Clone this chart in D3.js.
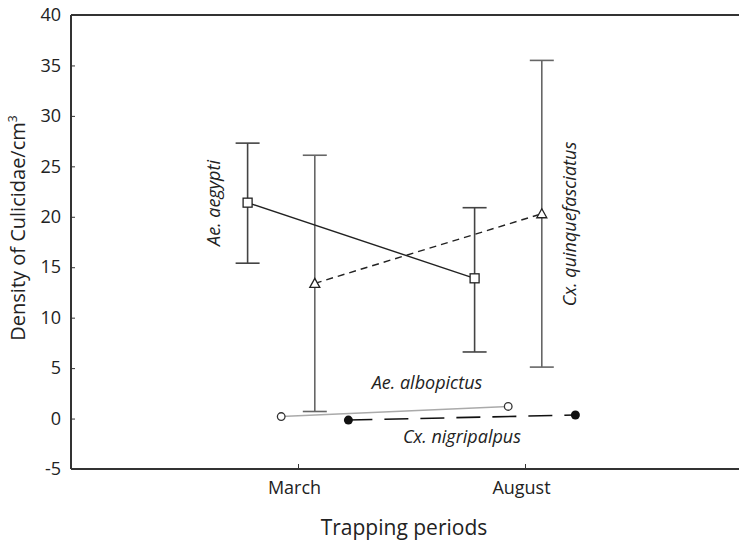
<!DOCTYPE html>
<html><head><meta charset="utf-8">
<script src="https://cdn.jsdelivr.net/npm/d3@7"></script>
<style>body{margin:0;background:#fff}svg{display:block}text{font-family:"Open Sans",sans-serif;fill:#222}</style>
</head><body><svg id="c" width="739" height="543"></svg>
<script>
const periods = ["March", "August"];
const yTicks = [-5, 0, 5, 10, 15, 20, 25, 30, 35, 40];
const species = ["Ae. aegypti", "Ae. albopictus", "Cx. quinquefasciatus", "Cx. nigripalpus"];
const aegyptiMean = [21.4, 13.9];
const aegyptiLow = [15.4, 6.6];
const aegyptiHigh = [27.3, 20.9];
const albopictusMean = [0.2, 1.2];
const quinqueMean = [13.4, 20.3];
const quinqueLow = [0.7, 5.1];
const quinqueHigh = [26.1, 35.5];
const nigripalpusMean = [-0.15, 0.35];

const svg = d3.select("#c");
const x = d3.scaleLinear().domain([0, 3]).range([71, 752]);
const y = d3.scaleLinear().domain([-5, 40]).range([469, 15]);
const offset = [-1.5, -0.5, 0.5, 1.5];
const step = 0.148;
const px = (i, s) => x(i + 1 + offset[s] * step);

// frame
const g = svg.append("g");
g.append("line").attr("x1", 71).attr("x2", 752).attr("y1", 15).attr("y2", 15).attr("stroke", "#333").attr("stroke-width", 2);
const yAx = g.append("g").attr("transform", "translate(71,0)")
  .call(d3.axisLeft(y).tickValues(yTicks).tickSize(-4).tickPadding(10).tickFormat(d => String(d)));
const xAx = g.append("g").attr("transform", "translate(0,469)")
  .call(d3.axisBottom(x).tickValues([1, 2]).tickSize(-5).tickPadding(12).tickFormat(d => periods[d - 1]));
[yAx, xAx].forEach(a => {
  a.select(".domain").attr("stroke", "#333").attr("stroke-width", 2);
  a.selectAll(".tick line").attr("stroke", "#333").attr("stroke-width", 1);
  a.selectAll("text").attr("font-size", 18).attr("font-family", "Open Sans").attr("fill", "#222");
});
xAx.selectAll("text").attr("dx", -4);
yAx.select(".domain").attr("d", "M0,15V469");
xAx.select(".domain").attr("d", "M71,0H752");

// axis titles
svg.append("text").attr("transform", "translate(25,228) rotate(-90)").attr("text-anchor", "middle")
  .attr("font-size", 20).text("Density of Culicidae/cm").append("tspan").attr("font-size", 12).attr("dy", -8).text("3");
svg.append("text").attr("x", 404).attr("y", 535).attr("text-anchor", "middle").attr("font-size", 21).text("Trapping periods");

// error bars
function errBars(s, low, high, color) {
  low.forEach((l, i) => {
    const cx = px(i, s);
    svg.append("line").attr("x1", cx).attr("x2", cx).attr("y1", y(high[i])).attr("y2", y(l)).attr("stroke", color).attr("stroke-width", 1.6);
    [l, high[i]].forEach(v => svg.append("line").attr("x1", cx - 12).attr("x2", cx + 12).attr("y1", y(v)).attr("y2", y(v)).attr("stroke", color).attr("stroke-width", 1.6));
  });
}
errBars(0, aegyptiLow, aegyptiHigh, "#444");
errBars(2, quinqueLow, quinqueHigh, "#666");

function series(s, mean, color, width, dash) {
  const line = d3.line().x((d, i) => px(i, s)).y(d => y(d));
  svg.append("path").datum(mean).attr("d", line).attr("fill", "none").attr("stroke", color).attr("stroke-width", width).attr("stroke-dasharray", dash);
}
series(1, albopictusMean, "#aaa", 1.6, null);
series(3, nigripalpusMean, "#111", 1.6, "24,12");
series(0, aegyptiMean, "#222", 1.4, null);
series(2, quinqueMean, "#222", 1.4, "7,5");

// markers
aegyptiMean.forEach((v, i) => svg.append("rect").attr("x", px(i, 0) - 4.5).attr("y", y(v) - 4.5).attr("width", 9).attr("height", 9).attr("fill", "#fff").attr("stroke", "#222").attr("stroke-width", 1.3));
quinqueMean.forEach((v, i) => svg.append("path").attr("transform", `translate(${px(i, 2)},${y(v)})`).attr("d", "M0,-5L5,4L-5,4Z").attr("fill", "#fff").attr("stroke", "#222").attr("stroke-width", 1.3));
albopictusMean.forEach((v, i) => svg.append("circle").attr("cx", px(i, 1)).attr("cy", y(v)).attr("r", 3.8).attr("fill", "#fff").attr("stroke", "#333").attr("stroke-width", 1.3));
nigripalpusMean.forEach((v, i) => svg.append("circle").attr("cx", px(i, 3)).attr("cy", y(v)).attr("r", 4.5).attr("fill", "#111"));

// species labels
const lab = (t, xx, yy, rot) => svg.append("text").attr("transform", `translate(${xx},${yy})` + (rot ? " rotate(-90)" : ""))
  .attr("text-anchor", "middle").attr("font-style", "italic").attr("font-size", 18).text(t);
lab(species[0], 220, 203, true);
lab(species[2], 576, 224, true);
lab(species[1], 427, 389, false);
lab(species[3], 462, 443, false);
</script></body></html>
